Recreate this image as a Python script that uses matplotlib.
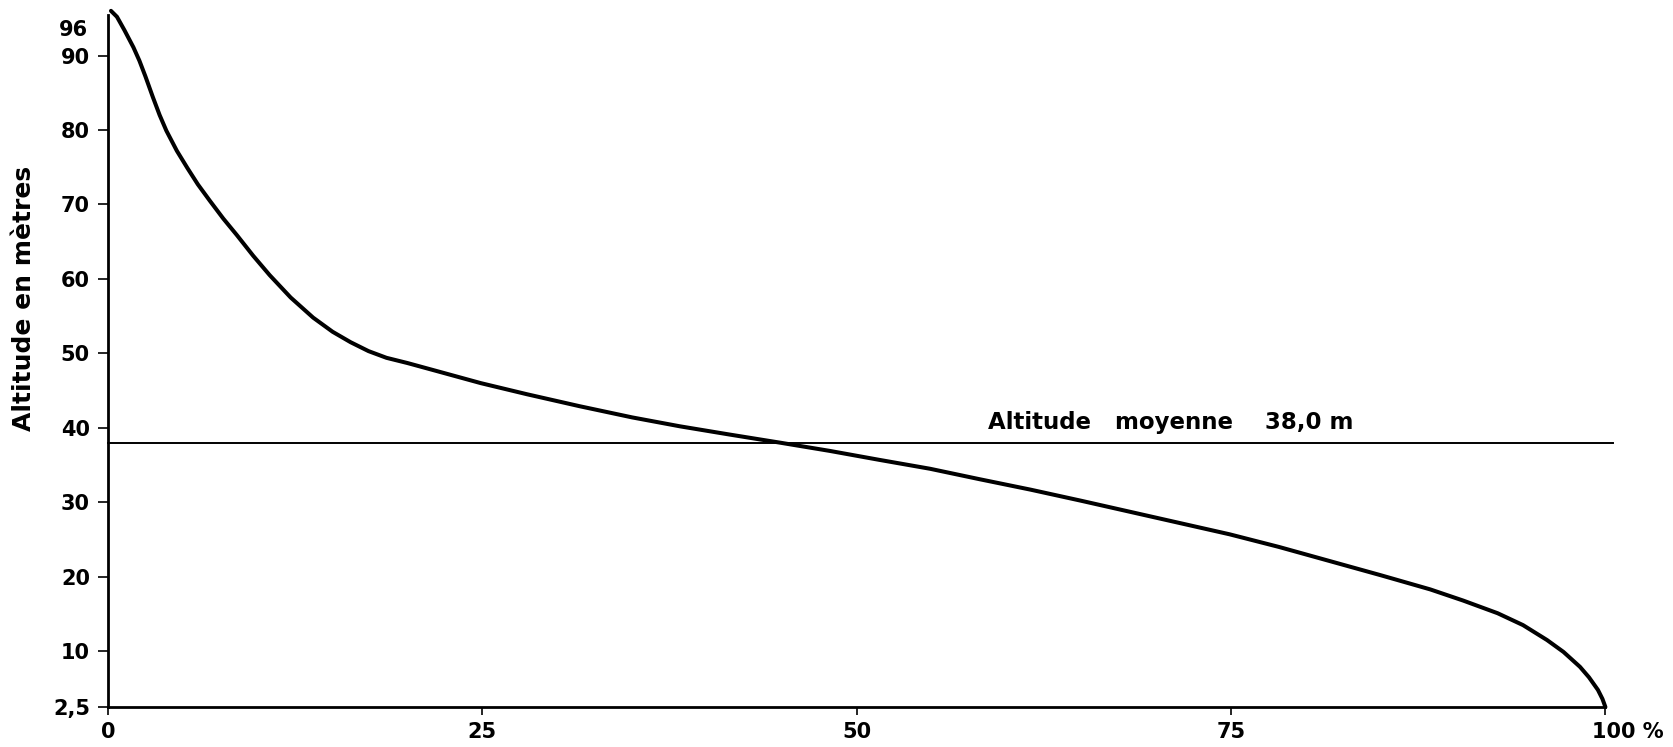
import matplotlib
matplotlib.use("Agg")
import matplotlib.pyplot as plt
from matplotlib.transforms import ScaledTranslation

plt.rcParams['font.family'] = ['DejaVu Sans']
plt.rcParams['font.weight'] = 'bold'

# hypsometric curve: % of basin area lying above a given altitude
pct_area = [0.2, 0.6, 1.1, 1.7, 2.1, 2.5, 3.0, 3.45, 3.9, 4.6, 5.3, 6.0, 6.8,
            7.7, 8.6, 9.7, 10.8, 12.2, 13.7, 15.0, 16.2, 17.4, 18.6, 20.0,
            22.0, 24.9, 28.0, 31.5, 35.0, 38.2, 41.5, 44.9, 48.2, 51.5, 54.9,
            58.2, 61.6, 65.0, 68.3, 71.6, 74.9, 78.2, 81.6, 85.0, 88.3, 90.5,
            92.8, 94.5, 96.1, 97.2, 98.3, 98.9, 99.5, 99.8, 100.0]
altitude = [96.0, 95.2, 93.4, 91.1, 89.3, 87.2, 84.4, 82.0, 79.9, 77.2, 74.9,
            72.7, 70.5, 68.1, 65.9, 63.1, 60.5, 57.5, 54.8, 52.9, 51.5, 50.3,
            49.4, 48.7, 47.6, 46.0, 44.5, 42.9, 41.4, 40.2, 39.1, 38.0, 36.9,
            35.7, 34.5, 33.1, 31.7, 30.2, 28.7, 27.2, 25.7, 24.0, 22.1, 20.2,
            18.3, 16.8, 15.1, 13.5, 11.5, 9.9, 7.9, 6.5, 4.8, 3.6, 2.5]

mean_altitude = 38.0
mean_label = "Altitude   moyenne    38,0 m"

x_ticks = [0, 25, 50, 75, 100]
x_labels = ["0", "25", "50", "75", "100 %"]
y_ticks = [2.5, 10, 20, 30, 40, 50, 60, 70, 80, 90]
y_labels = ["2,5", "10", "20", "30", "40", "50", "60", "70", "80", "90"]
y_top_label = 96

fig = plt.figure(figsize=(16.74, 7.47), dpi=100)
ax = fig.add_axes([0.0645, 0.0535, 0.899, 0.927])

ax.plot(pct_area, altitude, color='black', lw=2.9, solid_capstyle='round',
        solid_joinstyle='round', clip_on=False)
ax.plot([0, 100.5], [mean_altitude, mean_altitude], color='black', lw=1.4,
        clip_on=False)
ax.text(58.8, 40.7, mean_label, fontsize=16.5, fontweight='bold', va='center',
        ha='left')

ax.set_xlim(0, 100.5)
ax.set_ylim(2.5, 95.5)
for side in ['top', 'right']:
    ax.spines[side].set_visible(False)
ax.spines['left'].set_linewidth(2.0)
ax.spines['bottom'].set_linewidth(2.0)
ax.spines['bottom'].set_bounds(0, 100)

ax.set_xticks(x_ticks)
ax.set_xticklabels(x_labels, fontsize=15, fontweight='bold')
ax.set_yticks(y_ticks)
ax.set_yticklabels(y_labels, fontsize=15, fontweight='bold')
ax.tick_params(axis='y', direction='out', length=7, width=1.2, pad=6)
ax.tick_params(axis='x', direction='out', length=6, width=1.2, pad=5)

# "100 %" hangs to the right of its tick
last = ax.get_xticklabels()[-1]
last.set_ha('left')
last.set_transform(last.get_transform() + ScaledTranslation(-0.13, 0, fig.dpi_scale_trans))

# top value of the axis, nudged down under the end of the spine
ax.annotate(str(y_top_label), xy=(0, y_top_label), xycoords=('axes fraction', 'data'),
            xytext=(-14.5, -14), textcoords='offset points', ha='right', va='center',
            fontsize=15, fontweight='bold')

ax.set_ylabel("Altitude en mètres", fontsize=18, fontweight='bold')
ax.yaxis.set_label_coords(-0.048, 0.59)

fig.savefig("out.png", dpi=100, facecolor='white')
